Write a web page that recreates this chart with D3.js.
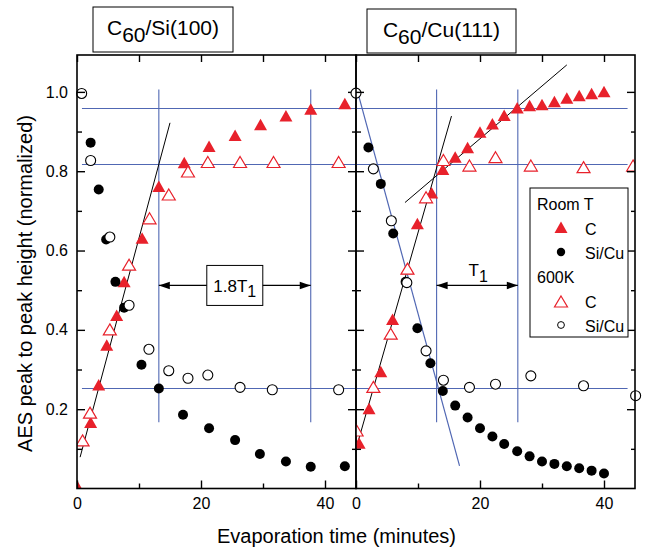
<!DOCTYPE html>
<html>
<head>
<meta charset="utf-8">
<script src="https://cdn.jsdelivr.net/npm/d3@7/dist/d3.min.js"></script>
<style>
  html, body { margin: 0; padding: 0; background: #fff; }
  svg { display: block; font-family: "Liberation Sans", Arial, Helvetica, sans-serif; }
</style>
</head>
<body>
<svg id="chart" width="645" height="549"></svg>
<script>
// ---- data: [evaporation time (min), normalized AES peak-to-peak height] ----
// C60 on Si(100)
const siRoomC  = [[0,0.005],[2.2,0.165],[3.5,0.26],[4.8,0.36],[6.4,0.435],[7.6,0.52],[10.5,0.63],[13.2,0.76],[17.3,0.82],[21.3,0.861],[25.5,0.889],[29.6,0.916],[33.7,0.938],[37.7,0.955],[43.2,0.969]];
const siRoomSi = [[2.2,0.872],[3.5,0.754],[4.7,0.628],[6.2,0.521],[7.6,0.456],[10.4,0.312],[13.2,0.252],[17.1,0.186],[21.3,0.152],[25.5,0.122],[29.5,0.087],[33.7,0.068],[37.7,0.055],[43.2,0.056]];
const si600C   = [[0.9,0.12],[2.1,0.19],[5.3,0.40],[8.4,0.563],[11.7,0.68],[14.8,0.74],[17.9,0.798],[21.1,0.822],[26.3,0.822],[31.7,0.822],[42.2,0.822]];
const si600Si  = [[0.75,0.996],[2.2,0.827],[5.3,0.634],[8.4,0.462],[11.6,0.351],[14.8,0.297],[17.9,0.278],[21.1,0.286],[26.3,0.255],[31.5,0.249],[42.2,0.249]];
// C60 on Cu(111)
const cuRoomC  = [[0.5,0.113],[2.1,0.2],[4.0,0.293],[5.9,0.425],[8.3,0.553],[9.9,0.666],[12.2,0.744],[14.0,0.803],[16.0,0.834],[18.0,0.858],[20.0,0.897],[22.0,0.918],[23.9,0.939],[26.0,0.958],[28.0,0.964],[30.0,0.966],[32.0,0.974],[34.0,0.983],[36.0,0.989],[38.0,0.994],[40.0,0.999]];
const cuRoomCu = [[2.0,0.86],[4.0,0.768],[6.0,0.643],[8.0,0.521],[9.9,0.404],[12.0,0.316],[14.0,0.246],[16.0,0.209],[18.0,0.179],[20.0,0.152],[22.0,0.131],[23.9,0.112],[26.0,0.094],[28.0,0.081],[30.0,0.068],[32.0,0.062],[34.0,0.056],[36.0,0.051],[38.0,0.045],[40.0,0.038]];
const cu600C   = [[0.1,0.145],[2.8,0.255],[5.6,0.389],[8.3,0.553],[11.3,0.733],[14.1,0.827],[18.3,0.813],[22.5,0.834],[28.2,0.813],[36.7,0.809],[44.7,0.813]];
const cu600Cu  = [[0,0.997],[2.8,0.806],[5.7,0.675],[8.2,0.519],[11.3,0.347],[14.1,0.273],[18.3,0.255],[22.5,0.263],[28.2,0.284],[36.7,0.259],[45.1,0.234]];

// guide levels and markers of the growth times
const levels = [0.958, 0.817, 0.252];
const siTimes = [13.2, 37.7];
const cuTimes = [13.0, 26.1];
const timeSpan = [0.167, 1.006];
const arrowLevel = 0.512;

// straight-line fits
const siFit = [[0.5,0.079],[15,0.922]];
const cuFitRise = [[0,0.1],[15.4,0.939]];
const cuFitSlow = [[7.9,0.721],[34,1.068]];
const cuFitDecay = [[0.35,0.995],[16.7,0.057]];

// axis ticks
const xMajor = [0, 20, 40], xMinor = [10, 30];
const yMajor = [0.2, 0.4, 0.6, 0.8, 1.0], yMinor = [0.1, 0.3, 0.5, 0.7, 0.9];
const xDomain = [0, 45], yDomain = [0, 1.093];

const RED = "#e8212b", BLUE = "#5067b3";
const svg = d3.select("#chart");

const y = d3.scaleLinear().domain(yDomain).range([488.5, 55]);
const xSi = d3.scaleLinear().domain(xDomain).range([77, 356]);
const xCu = d3.scaleLinear().domain(xDomain).range([356, 635]);

const triPath = "M0,-6.5L6.5,5L-6.5,5Z";
const triSmall = "M0,-6L6.5,5L-6.5,5Z";

function panel(id, x, opts) {
  const g = svg.append("g");
  const [x0, x1] = x.range(), [yb, yt] = y.range();
  svg.append("clipPath").attr("id", id).append("rect")
    .attr("x", x0).attr("y", yt).attr("width", x1 - x0).attr("height", yb - yt);

  // blue guide lines
  const hx = opts.levelX;
  opts.levels.forEach(v => g.append("line")
    .attr("x1", x(hx[0])).attr("x2", x(hx[1])).attr("y1", y(v)).attr("y2", y(v))
    .attr("stroke", BLUE).attr("stroke-width", 1.1));
  opts.times.forEach(t => g.append("line")
    .attr("x1", x(t)).attr("x2", x(t)).attr("y1", y(timeSpan[0])).attr("y2", y(timeSpan[1]))
    .attr("stroke", BLUE).attr("stroke-width", 1.1));

  // fitted lines
  const line = d3.line().x(d => x(d[0])).y(d => y(d[1]));
  opts.fits.forEach(f => g.append("path").attr("d", line(f.pts))
    .attr("fill", "none").attr("stroke", f.color).attr("stroke-width", f.w));

  // markers
  const tri = g.append("g").attr("clip-path", `url(#${id})`);
  tri.selectAll(".tf").data(opts.roomC).join("path")
    .attr("d", triPath).attr("transform", d => `translate(${x(d[0])},${y(d[1])})`)
    .attr("fill", RED);
  g.selectAll(".cf").data(opts.roomS).join("circle")
    .attr("cx", d => x(d[0])).attr("cy", d => y(d[1])).attr("r", 5).attr("fill", "#000");
  const tri2 = g.append("g").attr("clip-path", `url(#${id})`);
  tri2.selectAll(".to").data(opts.hotC).join("path")
    .attr("d", triSmall).attr("transform", d => `translate(${x(d[0])},${y(d[1])})`)
    .attr("fill", "#fff").attr("stroke", RED).attr("stroke-width", 1.2);
  g.selectAll(".co").data(opts.hotS).join("circle")
    .attr("cx", d => x(d[0])).attr("cy", d => y(d[1])).attr("r", 5)
    .attr("fill", "#fff").attr("stroke", "#000").attr("stroke-width", 1.1);

  // growth-time arrow
  const ay = y(arrowLevel), ax0 = x(opts.times[0]), ax1 = x(opts.times[1]);
  g.append("line").attr("x1", ax0).attr("x2", ax1).attr("y1", ay).attr("y2", ay)
    .attr("stroke", "#000").attr("stroke-width", 1.2);
  g.append("path").attr("d", `M${ax0},${ay}l11,-3.8l0,7.6Z`).attr("fill", "#000");
  g.append("path").attr("d", `M${ax1},${ay}l-11,-3.8l0,7.6Z`).attr("fill", "#000");
  const mid = x((opts.times[0] + opts.times[1]) / 2);
  if (opts.boxed) {
    g.append("rect").attr("x", mid - 28).attr("y", ay - 20).attr("width", 56).attr("height", 40)
      .attr("fill", "#fff").attr("stroke", "#000").attr("stroke-width", 1);
    const t = g.append("text").attr("x", mid).attr("y", ay + 6.5).attr("text-anchor", "middle")
      .attr("font-size", 17);
    t.append("tspan").text(opts.label);
    t.append("tspan").attr("dy", 5).attr("font-size", 16).text("1");
  } else {
    const t = g.append("text").attr("x", mid + 1).attr("y", ay - 9).attr("text-anchor", "middle")
      .attr("font-size", 17);
    t.append("tspan").text(opts.label);
    t.append("tspan").attr("dy", 6).attr("font-size", 16).text("1");
  }

  // axes (ticks point inward)
  const ax = svg.append("g");
  const mk = (axis, tr, labels) => {
    const a = ax.append("g").attr("transform", tr).call(axis)
      .attr("font-size", 16).attr("font-family", null);
    a.select(".domain").remove();
    a.selectAll("line").attr("stroke-width", 1.4);
    a.selectAll("text").attr("fill", "#000");
    if (!labels) a.selectAll("text").remove();
    return a;
  };
  mk(d3.axisBottom(x).tickValues(xMajor).tickSize(-8).tickPadding(9).tickFormat(d3.format("d")), `translate(0,${yb})`, true);
  mk(d3.axisBottom(x).tickValues(xMinor).tickSize(-5), `translate(0,${yb})`, false);
  mk(d3.axisTop(x).tickValues(xMajor.concat(xMinor)).tickSize(-7), `translate(0,${yt})`, false);
  mk(d3.axisLeft(y).tickValues(yMajor).tickSize(-8).tickPadding(9).tickFormat(d3.format(".1f")), `translate(${x0},0)`, opts.yLabels);
  mk(d3.axisLeft(y).tickValues(yMinor).tickSize(-5), `translate(${x0},0)`, false);
  mk(d3.axisRight(y).tickValues(yMajor).tickSize(-8), `translate(${x1},0)`, false);
  mk(d3.axisRight(y).tickValues(yMinor).tickSize(-4), `translate(${x1},0)`, false);
  ax.append("rect").attr("x", x0).attr("y", yt).attr("width", x1 - x0).attr("height", yb - yt)
    .attr("fill", "none").attr("stroke", "#000").attr("stroke-width", 1.6);
}

panel("clipSi", xSi, {
  levels, levelX: [0.8, 45], times: siTimes,
  fits: [{pts: siFit, color: "#000", w: 1}],
  roomC: siRoomC, roomS: siRoomSi, hotC: si600C, hotS: si600Si,
  boxed: true, label: "1.8T", yLabels: true
});
panel("clipCu", xCu, {
  levels, levelX: [0, 43.8], times: cuTimes,
  fits: [{pts: cuFitDecay, color: BLUE, w: 1.2}, {pts: cuFitRise, color: "#000", w: 1}, {pts: cuFitSlow, color: "#000", w: 1}],
  roomC: cuRoomC, roomS: cuRoomCu, hotC: cu600C, hotS: cu600Cu,
  boxed: false, label: "T", yLabels: false
});

// panel titles
function title(bx, top, w, h, sub, rest) {
  svg.append("rect").attr("x", bx).attr("y", top).attr("width", w).attr("height", h)
    .attr("fill", "#fff").attr("stroke", "#000").attr("stroke-width", 1);
  const t = svg.append("text").attr("x", bx + w / 2).attr("y", top + 28).attr("text-anchor", "middle")
    .attr("font-size", 21);
  t.append("tspan").text("C");
  t.append("tspan").attr("dy", 7).text(sub);
  t.append("tspan").attr("dy", -7).text(rest);
}
title(93, 7, 140, 45, "60", "/Si(100)");
title(367, 9, 149, 44, "60", "/Cu(111)");

// legend
const lg = svg.append("g").attr("font-size", 16);
lg.append("rect").attr("x", 530).attr("y", 188).attr("width", 98).attr("height", 149)
  .attr("fill", "#fff").attr("stroke", "#000").attr("stroke-width", 1);
lg.append("text").attr("x", 537).attr("y", 210).text("Room T");
lg.append("path").attr("d", triPath).attr("transform", "translate(561,228)").attr("fill", RED);
lg.append("text").attr("x", 585).attr("y", 235).text("C");
lg.append("circle").attr("cx", 561).attr("cy", 252).attr("r", 4.2).attr("fill", "#000");
lg.append("text").attr("x", 585).attr("y", 259).text("Si/Cu");
lg.append("text").attr("x", 537).attr("y", 283).text("600K");
lg.append("path").attr("d", triSmall).attr("transform", "translate(561,302)")
  .attr("fill", "#fff").attr("stroke", RED).attr("stroke-width", 1.2);
lg.append("text").attr("x", 585).attr("y", 308).text("C");
lg.append("circle").attr("cx", 561).attr("cy", 325).attr("r", 3.4)
  .attr("fill", "#fff").attr("stroke", "#000").attr("stroke-width", 1);
lg.append("text").attr("x", 585).attr("y", 332).text("Si/Cu");

// axis titles
svg.append("text").attr("x", 336.5).attr("y", 543).attr("text-anchor", "middle")
  .attr("font-size", 20).text("Evaporation time (minutes)");
svg.append("text").attr("transform", "translate(32,283.5) rotate(-90)").attr("text-anchor", "middle")
  .attr("font-size", 20).text("AES peak to peak height (normalized)");
</script>
</body>
</html>
